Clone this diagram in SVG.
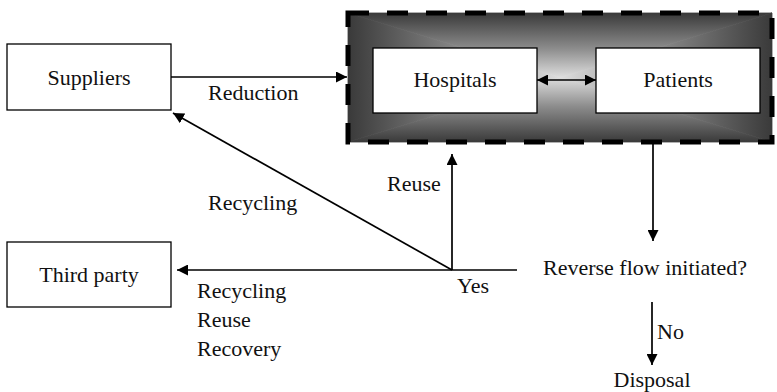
<svg xmlns="http://www.w3.org/2000/svg" width="777" height="392" viewBox="0 0 777 392">
  <style>
    .box { fill: #ffffff; stroke: #000000; stroke-width: 1.3; }
    .lbl { font-family: "Liberation Serif", "Times New Roman", serif; font-size: 22px; fill: #111111; }
    .mid { text-anchor: middle; }
    .edge { stroke: #000000; stroke-width: 1.7; fill: none; }
  </style>
  <defs>
    <marker id="head" viewBox="0 0 10 10" refX="10" refY="5" markerWidth="11" markerHeight="11" markerUnits="userSpaceOnUse" orient="auto-start-reverse">
      <path d="M0,0 L10,5 L0,10 z" fill="#000000"/>
    </marker>
    <!-- rectangular shading: four wedges, each fading from the rim to the centre -->
    <linearGradient id="gTop" gradientUnits="userSpaceOnUse" x1="0" y1="13" x2="0" y2="77.5">
      <stop offset="0" stop-color="#3a3a3a"/>
      <stop offset="0.55" stop-color="#8c8c8c"/>
      <stop offset="1" stop-color="#dedede"/>
    </linearGradient>
    <linearGradient id="gBot" gradientUnits="userSpaceOnUse" x1="0" y1="142" x2="0" y2="77.5">
      <stop offset="0" stop-color="#3a3a3a"/>
      <stop offset="0.55" stop-color="#8c8c8c"/>
      <stop offset="1" stop-color="#dedede"/>
    </linearGradient>
    <linearGradient id="gLeft" gradientUnits="userSpaceOnUse" x1="348" y1="0" x2="560" y2="0">
      <stop offset="0" stop-color="#3a3a3a"/>
      <stop offset="0.55" stop-color="#8c8c8c"/>
      <stop offset="1" stop-color="#dedede"/>
    </linearGradient>
    <linearGradient id="gRight" gradientUnits="userSpaceOnUse" x1="772" y1="0" x2="560" y2="0">
      <stop offset="0" stop-color="#3a3a3a"/>
      <stop offset="0.55" stop-color="#8c8c8c"/>
      <stop offset="1" stop-color="#dedede"/>
    </linearGradient>
  </defs>

  <!-- shaded care area with dashed border -->
  <g id="care-area">
    <polygon points="348,13 772,13 560,77.5" fill="url(#gTop)" stroke="url(#gTop)" stroke-width="0.8"/>
    <polygon points="348,142 772,142 560,77.5" fill="url(#gBot)" stroke="url(#gBot)" stroke-width="0.8"/>
    <polygon points="348,13 560,77.5 348,142" fill="url(#gLeft)" stroke="url(#gLeft)" stroke-width="0.8"/>
    <polygon points="772,13 560,77.5 772,142" fill="url(#gRight)" stroke="url(#gRight)" stroke-width="0.8"/>
    <rect x="348" y="13" width="424" height="129" fill="none" stroke="#000000" stroke-width="5" stroke-dasharray="21 18"/>
  </g>

  <g id="suppliers">
    <rect class="box" x="7" y="44" width="164" height="66"/>
    <text class="lbl mid" x="89" y="85">Suppliers</text>
  </g>

  <g id="hospitals">
    <rect class="box" x="373" y="48" width="164" height="65"/>
    <text class="lbl mid" x="455" y="87">Hospitals</text>
  </g>

  <g id="patients">
    <rect class="box" x="596" y="48" width="164" height="65"/>
    <text class="lbl mid" x="678" y="87">Patients</text>
  </g>

  <g id="third-party">
    <rect class="box" x="7" y="242" width="164" height="65"/>
    <text class="lbl mid" x="89" y="282">Third party</text>
  </g>

  <g id="decision">
    <text class="lbl mid" x="645" y="275">Reverse flow initiated?</text>
  </g>

  <g id="disposal">
    <text class="lbl mid" x="652" y="387">Disposal</text>
  </g>

  <g id="connectors">
    <line class="edge" x1="171" y1="77" x2="347" y2="77" marker-end="url(#head)"/>
    <line class="edge" x1="537" y1="80" x2="596" y2="80" marker-start="url(#head)" marker-end="url(#head)"/>
    <line class="edge" x1="653" y1="142" x2="653" y2="241" marker-end="url(#head)"/>
    <line class="edge" x1="517" y1="270" x2="177" y2="270" marker-end="url(#head)"/>
    <line class="edge" x1="452" y1="270" x2="452" y2="154" marker-end="url(#head)"/>
    <line class="edge" x1="452" y1="270" x2="173" y2="113" marker-end="url(#head)"/>
    <line class="edge" x1="652" y1="302" x2="652" y2="365" marker-end="url(#head)"/>
  </g>

  <g id="labels">
    <text class="lbl" x="208" y="100">Reduction</text>
    <text class="lbl" x="208" y="210">Recycling</text>
    <text class="lbl" x="387" y="191">Reuse</text>
    <text class="lbl" x="457" y="293">Yes</text>
    <text class="lbl" x="197" y="298">Recycling</text>
    <text class="lbl" x="197" y="327">Reuse</text>
    <text class="lbl" x="197" y="356">Recovery</text>
    <text class="lbl" x="657" y="339">No</text>
  </g>
</svg>
